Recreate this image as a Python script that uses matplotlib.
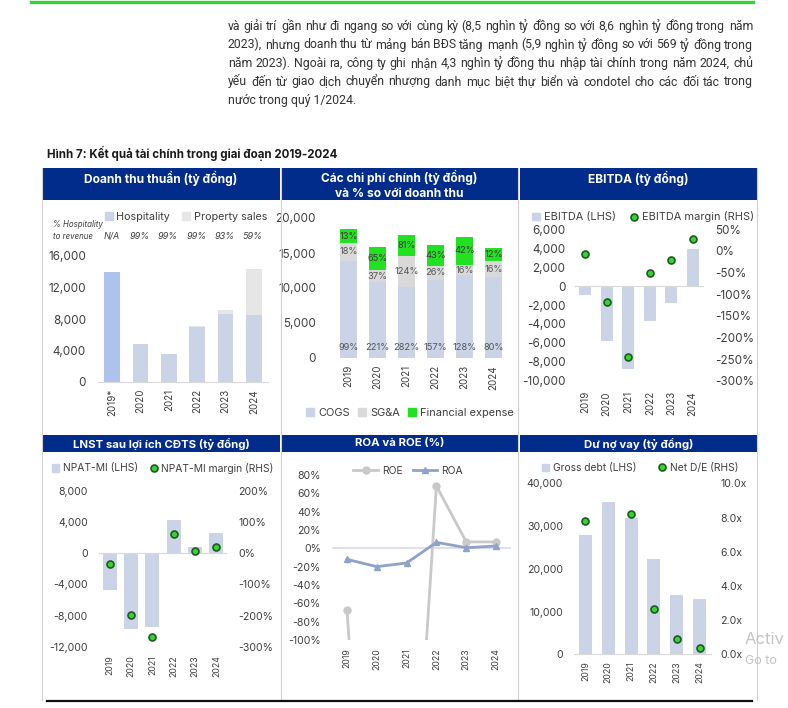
import matplotlib
matplotlib.use('Agg')
import matplotlib.pyplot as plt
from matplotlib.patches import Rectangle, Patch
from matplotlib.lines import Line2D
import numpy as np

plt.rcParams['font.family'] = ['Inter', 'DejaVu Sans']

# ---- data ----
years = ['2019', '2020', '2021', '2022', '2023', '2024']
rev_years = ['2019*', '2020', '2021', '2022', '2023', '2024']

hospitality = [14000, 4800, 3500, 7000, 8600, 8500]
property_sales = [0, 50, 35, 70, 570, 5900]
hosp_share = ['N/A', '99%', '99%', '99%', '93%', '59%']

cogs = [13900, 10800, 10200, 11200, 11800, 11600]
sga = [2500, 1800, 4400, 1900, 1500, 2200]
fin_exp = [2000, 3200, 2900, 3100, 4000, 1900]
cogs_pct = ['99%', '221%', '282%', '157%', '128%', '80%']
sga_pct = ['18%', '37%', '124%', '26%', '16%', '16%']
fin_pct = ['13%', '65%', '81%', '43%', '42%', '12%']

ebitda = [-900, -5800, -8800, -3700, -1800, 3900]
ebitda_margin = [-6, -118, -245, -51, -20, 28]

npat = [-4700, -9700, -9500, 4250, 720, 2560]
npat_margin = [-34, -198, -268, 60, 8, 18]

roe = [-67, -520, -438, 68, 7, 7]
roa = [-12, -20, -16, 6.5, 0.7, 2.5]

gross_debt = [28000, 35600, 32000, 22400, 13900, 12900]
net_de = [7.8, np.nan, 8.2, 2.63, 0.88, 0.35]

paragraph = [
    "và giải trí gần như đi ngang so với cùng kỳ (8,5 nghìn tỷ đồng so với 8,6 nghìn tỷ đồng trong năm",
    "2023), nhưng doanh thu từ mảng bán BĐS tăng mạnh (5,9 nghìn tỷ đồng so với 569 tỷ đồng trong",
    "năm 2023). Ngoài ra, công ty ghi nhận 4,3 nghìn tỷ đồng thu nhập tài chính trong năm 2024, chủ",
    "yếu đến từ giao dịch chuyển nhượng danh mục biệt thự biển và condotel cho các đối tác trong",
    "nước trong quý 1/2024.",
]

# ---- style ----
NAVY = '#022C8C'
TXT = '#3F3F3F'
BAR = '#CBD4E7'
BAR19 = '#ADC3EE'
PROP = '#E6E6E6'
SGA_C = '#D9D9D9'
GREEN = '#22E022'
DOT = '#35D435'
DOT_EDGE = '#1E5A1E'
GRID = '#D9D9D9'

W, H = 788, 708
fig = plt.figure(figsize=(W / 100, H / 100), dpi=100)
x = np.arange(len(years))


def add_ax(x0, y0, x1, y1):
    return fig.add_axes([x0 / W, 1 - y1 / H, (x1 - x0) / W, (y1 - y0) / H])


def fpos(px, py):
    return px / W, 1 - py / H


def clean(ax, fs, ypad, xpad):
    for s in ax.spines.values():
        s.set_visible(False)
    ax.tick_params(length=0, colors=TXT)
    ax.tick_params(axis='y', labelsize=fs, pad=ypad)
    ax.tick_params(axis='x', labelsize=fs - 1.3, pad=xpad, rotation=90)
    ax.set_xlim(-0.5, 5.5)
    ax.patch.set_alpha(0)


def legend(handles, labels, cx, cy, fs, **kw):
    opts = dict(loc='center', frameon=False, fontsize=fs, ncol=len(handles),
                handlelength=0.7, handleheight=0.7, handletextpad=0.35,
                columnspacing=1.1, borderpad=0, borderaxespad=0, labelcolor=TXT)
    opts.update(kw)
    fig.legend(handles, labels, bbox_to_anchor=fpos(cx, cy), **opts)


def dot_handle():
    return Line2D([], [], ls='none', marker='o', ms=5, mfc=DOT, mec=DOT_EDGE, mew=1.2)


def thousands(vals):
    return [f'{v:,.0f}' for v in vals]


# ---- page decoration ----
fig.add_artist(Line2D([31 / W, 753 / W], [1 - 1.5 / H] * 2, color='#33D633', lw=2.4))

# justified paragraph (word gaps stretched to fill the column)
r = fig.canvas.get_renderer()
pfam = ['Roboto', 'DejaVu Sans']
pfs = 9.0
while True:
    t = fig.text(0, 0, paragraph[0], fontsize=pfs, family=pfam)
    wd = t.get_window_extent(r).width
    t.remove()
    if wd < 523:
        break
    pfs -= 0.1
line_y = [26.5, 45, 63.5, 82, 100.5]
for i, line in enumerate(paragraph):
    base = 1 - (line_y[i] + 3.5) / H
    if i == len(paragraph) - 1:
        fig.text(228 / W, base, line, fontsize=pfs, family=pfam, color='#333333', va='baseline')
        continue
    words = line.split()
    texts = [fig.text(0, base, w, fontsize=pfs, family=pfam, color='#333333', va='baseline')
             for w in words]
    widths = [t.get_window_extent(r).width for t in texts]
    gap = (753 - 228 - sum(widths)) / (len(words) - 1)
    xp = 228
    for t, wd in zip(texts, widths):
        t.set_x(xp / W)
        xp += wd + gap

fig.text(*fpos(47, 152), 'Hình 7: Kết quả tài chính trong giai đoạn 2019-2024',
         fontsize=8.3, fontweight='bold', color='#1A1A1A', va='center_baseline')

# panel borders and headers
for bx in [42, 280.5, 518, 756.5]:
    fig.add_artist(Line2D([bx / W] * 2, [1 - 168 / H, 1 - 700 / H], color='#D0D0D0', lw=0.8))
fig.add_artist(Line2D([47 / W, 752 / W], [1 - 701 / H] * 2, color='#111111', lw=1.6))

headers = [
    ((42, 168, 280, 200), 'Doanh thu thuần (tỷ đồng)', 178),
    ((281.5, 168, 517.5, 200), 'Các chi phí chính (tỷ đồng)\nvà % so với doanh thu', 185),
    ((519.5, 168, 757, 200), 'EBITDA (tỷ đồng)', 178),
    ((42, 435, 280, 452), 'LNST sau lợi ích CĐTS (tỷ đồng)', 443.5),
    ((281.5, 435, 517.5, 452), 'ROA và ROE (%)', 443.5),
    ((519.5, 435, 757, 452), 'Dư nợ vay (tỷ đồng)', 443.5),
]
for (x0, y0, x1, y1), title, ty in headers:
    fig.add_artist(Rectangle(fpos(x0, y1), (x1 - x0) / W, (y1 - y0) / H,
                             transform=fig.transFigure, color=NAVY, lw=0))
    fig.text(*fpos((x0 + x1) / 2, ty), title, color='white', fontweight='bold',
             fontsize=8.6 if y1 - y0 > 20 else 8.2, ha='center', va='center', linespacing=1.4)

# ---- panel 1: revenue ----
ax1 = add_ax(98, 256, 268, 382)
ax1.bar(x, hospitality, width=0.55, color=[BAR19] + [BAR] * 5)
ax1.bar(x, property_sales, bottom=hospitality, width=0.55, color=PROP)
clean(ax1, 8.4, 8.6, 5)
ax1.spines['bottom'].set_visible(True)
ax1.spines['bottom'].set_color(GRID)
ax1.set_ylim(0, 16000)
ax1.set_yticks(range(0, 16001, 4000), thousands(range(0, 16001, 4000)))
ax1.set_xticks(x, rev_years)
for i, s in enumerate(hosp_share):
    ax1.text(i - 0.03, 18500, s, fontsize=6.5, style='italic', color=TXT, ha='center', va='center')
fig.text(*fpos(53, 230.5), '% Hospitality\nto revenue', fontsize=5.7, style='italic', color=TXT,
         va='center', linespacing=1.35)
legend([Patch(color=BAR), Patch(color=PROP)], ['Hospitality', 'Property sales'], 186, 217, 7.8)

# ---- panel 2: costs ----
ax2 = add_ax(334, 218, 508, 358)
bw = 0.57
ax2.bar(x, cogs, width=bw, color=BAR)
ax2.bar(x, sga, bottom=cogs, width=bw, color=SGA_C)
b2 = np.array(cogs) + np.array(sga)
ax2.bar(x, fin_exp, bottom=b2, width=bw, color=GREEN)
clean(ax2, 8.4, 13, 5)
ax2.set_ylim(0, 20000)
ax2.set_yticks(range(0, 20001, 5000), thousands(range(0, 20001, 5000)))
ax2.set_xticks(x, years)
for i in x:
    ax2.text(i, 1500, cogs_pct[i], fontsize=6.7, color='#555555', ha='center', va='center')
    ax2.text(i, cogs[i] + sga[i] / 2, sga_pct[i], fontsize=6.7, color='#555555', ha='center', va='center')
    ax2.text(i, b2[i] + fin_exp[i] / 2, fin_pct[i], fontsize=6.7, color='#3A3A3A', ha='center', va='center')
legend([Patch(color=BAR), Patch(color=SGA_C), Patch(color=GREEN)],
       ['COGS', 'SG&A', 'Financial expense'], 410, 413, 7.9, columnspacing=0.8)

# ---- panel 3: EBITDA ----
ax3 = add_ax(574.5, 229.3, 703.5, 380.7)
ax3.bar(x, ebitda, width=0.55, color=BAR)
ax3.axhline(0, color=GRID, lw=0.9)
clean(ax3, 8.4, 6.5, 7.5)
ax3.set_ylim(-10000, 6000)
ax3.set_yticks(range(-10000, 6001, 2000), thousands(range(-10000, 6001, 2000)))
ax3.set_xticks(x, years)
ax3b = ax3.twinx()
ax3b.plot(x, ebitda_margin, ls='none', marker='o', ms=5, mfc=DOT, mec=DOT_EDGE, mew=1.2)
for s in ax3b.spines.values():
    s.set_visible(False)
ax3b.set_ylim(-300, 50)
ax3b.set_yticks(range(-300, 51, 50), [f'{v}%' for v in range(-300, 51, 50)])
ax3b.tick_params(length=0, labelsize=8.4, colors=TXT, pad=8.5)
legend([Patch(color=BAR), dot_handle()], ['EBITDA (LHS)', 'EBITDA margin (RHS)'], 643, 217, 7.9,
       columnspacing=1.3)

# ---- panel 4: NPAT-MI ----
ax4 = add_ax(99, 490.7, 227, 646.7)
ax4.bar(x, npat, width=0.66, color=BAR)
ax4.axhline(0, color=GRID, lw=0.9)
clean(ax4, 7.6, 8, 6)
ax4.set_ylim(-12000, 8000)
ax4.set_yticks(range(-12000, 8001, 4000), thousands(range(-12000, 8001, 4000)))
ax4.set_xticks(x, years)
ax4b = ax4.twinx()
ax4b.plot(x, npat_margin, ls='none', marker='o', ms=5, mfc=DOT, mec=DOT_EDGE, mew=1.2)
for s in ax4b.spines.values():
    s.set_visible(False)
ax4b.set_ylim(-300, 200)
ax4b.set_yticks(range(-300, 201, 100), [f'{v}%' for v in range(-300, 201, 100)])
ax4b.tick_params(length=0, labelsize=7.6, colors=TXT, pad=8)
legend([Patch(color=BAR), dot_handle()], ['NPAT-MI (LHS)', 'NPAT-MI margin (RHS)'], 163, 468, 7.4,
       columnspacing=1.2)

# ---- panel 5: ROA / ROE ----
ax5 = add_ax(332, 475, 511, 640)
ax5.axhline(0, color='#D5DBE6', lw=1.2)
ax5.plot(x, roe, color='#C9C9C9', lw=2, marker='o', ms=5, label='ROE')
ax5.plot(x, roa, color='#8FA2C7', lw=2, marker='^', ms=5, label='ROA')
clean(ax5, 7.6, 8, 6)
ax5.set_ylim(-100, 80)
ax5.set_yticks(range(-100, 81, 20), [f'{v}%' for v in range(-100, 81, 20)])
ax5.set_xticks(x, years)
h5, l5 = ax5.get_legend_handles_labels()
legend(h5, l5, 408, 471, 7.4, handlelength=2.4, handleheight=0.7, columnspacing=1.0)

# ---- panel 6: debt ----
ax6 = add_ax(574, 483.3, 711, 654.3)
ax6.bar(x, gross_debt, width=0.57, color=BAR)
clean(ax6, 7.6, 8, 5)
ax6.spines['bottom'].set_visible(True)
ax6.spines['bottom'].set_color(GRID)
ax6.set_ylim(0, 40000)
ax6.set_yticks(range(0, 40001, 10000), thousands(range(0, 40001, 10000)))
ax6.set_xticks(x, years)
ax6b = ax6.twinx()
ax6b.plot(x, net_de, ls='none', marker='o', ms=5, mfc=DOT, mec=DOT_EDGE, mew=1.2)
for s in ax6b.spines.values():
    s.set_visible(False)
ax6b.set_ylim(0, 10)
ax6b.set_yticks(range(0, 11, 2), [f'{v:.1f}x' for v in range(0, 11, 2)])
ax6b.tick_params(length=0, labelsize=7.6, colors=TXT, pad=6.5)
legend([Patch(color=BAR), dot_handle()], ['Gross debt (LHS)', 'Net D/E (RHS)'], 640, 468, 7.4,
       columnspacing=2.2)

# screen watermark left in the screenshot
fig.text(*fpos(745, 640), 'Activ', fontsize=12, color='#C4C4C4', va='center')
fig.text(*fpos(745, 661), 'Go to', fontsize=9, color='#C4C4C4', va='center')

fig.savefig('out.png', dpi=100)
